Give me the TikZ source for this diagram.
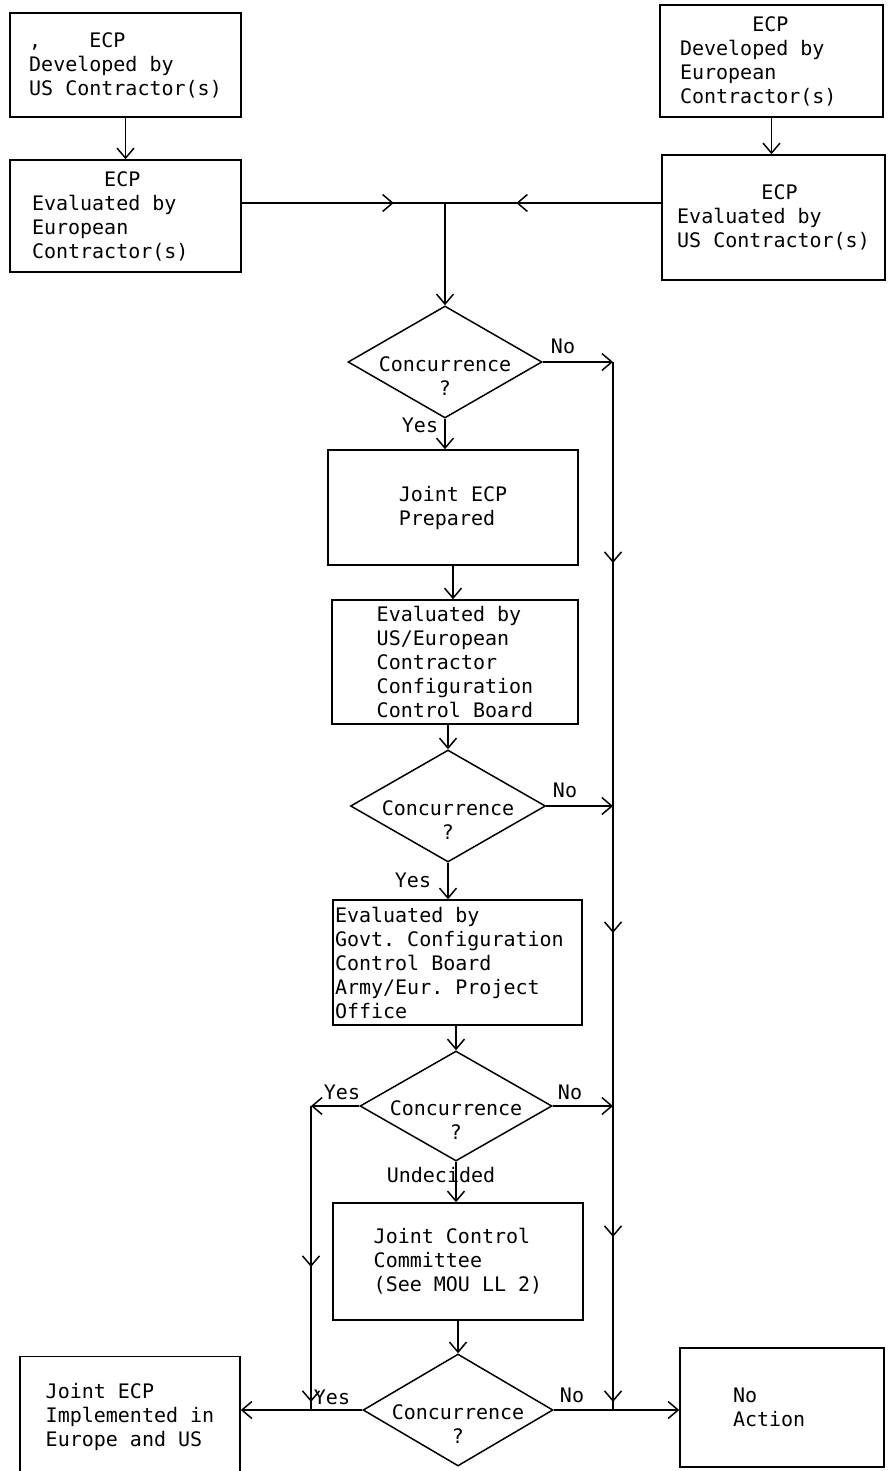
\documentclass[tikz,border=0pt]{standalone}
\usepackage{fontspec}
\setmonofont{DejaVu Sans Mono}[WordSpace={1,0,0}]
\usepackage{tikz}
\usetikzlibrary{arrows.meta,shapes.geometric,decorations.markings}
\newcommand{\typed}{\ttfamily\fontsize{20}{24}\selectfont}
\tikzset{
  >={Straight Barb[length=10pt,width=17pt]},
  box/.style={
    draw, rectangle, align=flush left, inner xsep=0pt, inner ysep=2pt, font=\typed
  },
  decision/.style={
    draw, diamond, inner sep=0pt, minimum width=194, minimum height=112
  },
  qtext/.style={align=center, font=\typed},
  tag/.style={font=\typed, inner sep=1pt},
  flow/.style={->},
  link/.style={-},
  tip at/.style={postaction={decorate,
    decoration={markings, mark=at position #1 with {\arrow{>}}}}},
}

\begin{document}
\begin{tikzpicture}[x=1pt, y=-1pt, line width=1.5pt]
  \useasboundingbox (0,0) rectangle (889,1471);
  % the two ECP sources
  \node[box, minimum width=231, minimum height=104] (usdev) at (125.5,65)
    {,\phantom{xxxx}ECP\\Developed by\\US Contractor(s)};
  \node[box, minimum width=231, minimum height=112, text width=187] (eueval) at (125.5,216)
    {\phantom{xxxxxx}ECP\\Evaluated by\\European\\Contractor(s)};
  \node[box, minimum width=223, minimum height=112, text width=183] (eudev) at (771.5,61)
    {\phantom{xxxxxx}ECP\\Developed by\\European\\Contractor(s)};
  \node[box, minimum width=223, minimum height=125] (useval) at (773.5,217.5)
    {\phantom{xxxxxxx}ECP\\Evaluated by\\US Contractor(s)};
  \coordinate (join) at (445,203);

  % main column
  \node[decision] (d1) at (445,362) {};
  \node[qtext] (q1) at ([yshift=-14pt]d1.center) {Concurrence\\?};
  \node[box, minimum width=250, minimum height=115] (prep) at (453,507.5)
    {Joint ECP\\Prepared};
  \node[box, minimum width=246, minimum height=124] (ccb) at (455,662)
    {Evaluated by\\US/European\\Contractor\\Configuration\\Control Board};
  \node[decision, minimum width=195] (d2) at (448,806) {};
  \node[qtext] (q2) at ([yshift=-14pt]d2.center) {Concurrence\\?};
  \node[box, minimum width=249, minimum height=125, text width=245] (govt) at (457.5,962.5)
    {Evaluated by\\Govt. Configuration\\Control Board\\Army/Eur. Project\\Office};
  \node[decision, minimum width=192, minimum height=110] (d3) at (456,1106) {};
  \node[qtext] (q3) at ([yshift=-14pt]d3.center) {Concurrence\\?};
  \node[box, minimum width=250, minimum height=117] (jcc) at (458,1261.5)
    {Joint Control\\Committee\\(See MOU LL 2)};
  \node[decision, minimum width=190] (d4) at (458,1410) {};
  \node[qtext] (q4) at ([yshift=-14pt]d4.center) {Concurrence\\?};

  % outcomes
  \node[box, minimum width=220, minimum height=121] (impl) at (130,1417)
    {Joint ECP\\Implemented in\\Europe and US};
  \node[box, minimum width=204, minimum height=119, text width=98] (noact) at (782,1407.5)
    {No\\Action};

  % branch labels
  \node[tag] (no1) at (563,346) {No};
  \node[tag] (yes1) at (420,425) {Yes};
  \node[tag] (no2) at (565,790) {No};
  \node[tag] (yes2) at (413,880) {Yes};
  \node[tag] (yes3) at (342,1092) {Yes};
  \node[tag] (no3) at (570,1092) {No};
  \node[tag] (und3) at (441,1175) {Undecided};
  \node[tag] (yes4) at (332,1397) {Yes};
  \node[tag] (no4) at (572,1395) {No};

  % connectors
  \draw[flow] (usdev) -- (eueval);
  \draw[flow] (eudev.south) -- (eudev.south |- useval.north);
  \draw[link, tip at=152pt] (eueval.east |- join) -- (join);
  \draw[link, tip at=145pt] (useval.west |- join) -- (join);
  \draw[flow] (join) -- (d1.north);
  \draw[flow] (d1.south) -- (d1.south |- prep.north);
  \draw[flow] (prep.south) -- (prep.south |- ccb.north);
  \draw[flow] (d2.north |- ccb.south) -- (d2.north);
  \draw[flow] (d2.south) -- (d2.south |- govt.north);
  \draw[flow] (d3.north |- govt.south) -- (d3.north);
  \draw[flow] (d3.south) -- (d3.south |- jcc.north);
  \draw[flow] (d4.north |- jcc.south) -- (d4.north);
  \draw[flow] (d4.west) -- (d4.west -| impl.east);
  \draw[flow] (d4.east) -- (d4.east -| noact.west);

  % "No" return line
  \coordinate (rtop) at (613,362);
  \draw[flow] (d1.east) -- (rtop);
  \draw[link, tip at=201pt, tip at=571pt, tip at=875pt, tip at=1040pt]
    (rtop) -- (rtop |- d4.east);
  \draw[flow] (d2.east) -- (d2.east -| rtop);
  \draw[flow] (d3.east) -- (d3.east -| rtop);

  % "Yes" line
  \coordinate (lcorner) at (311,1106);
  \draw[flow] (d3.west) -- (lcorner);
  \draw[link, tip at=161pt, tip at=296pt] (lcorner) -- (lcorner |- d4.west);
\end{tikzpicture}
\end{document}
